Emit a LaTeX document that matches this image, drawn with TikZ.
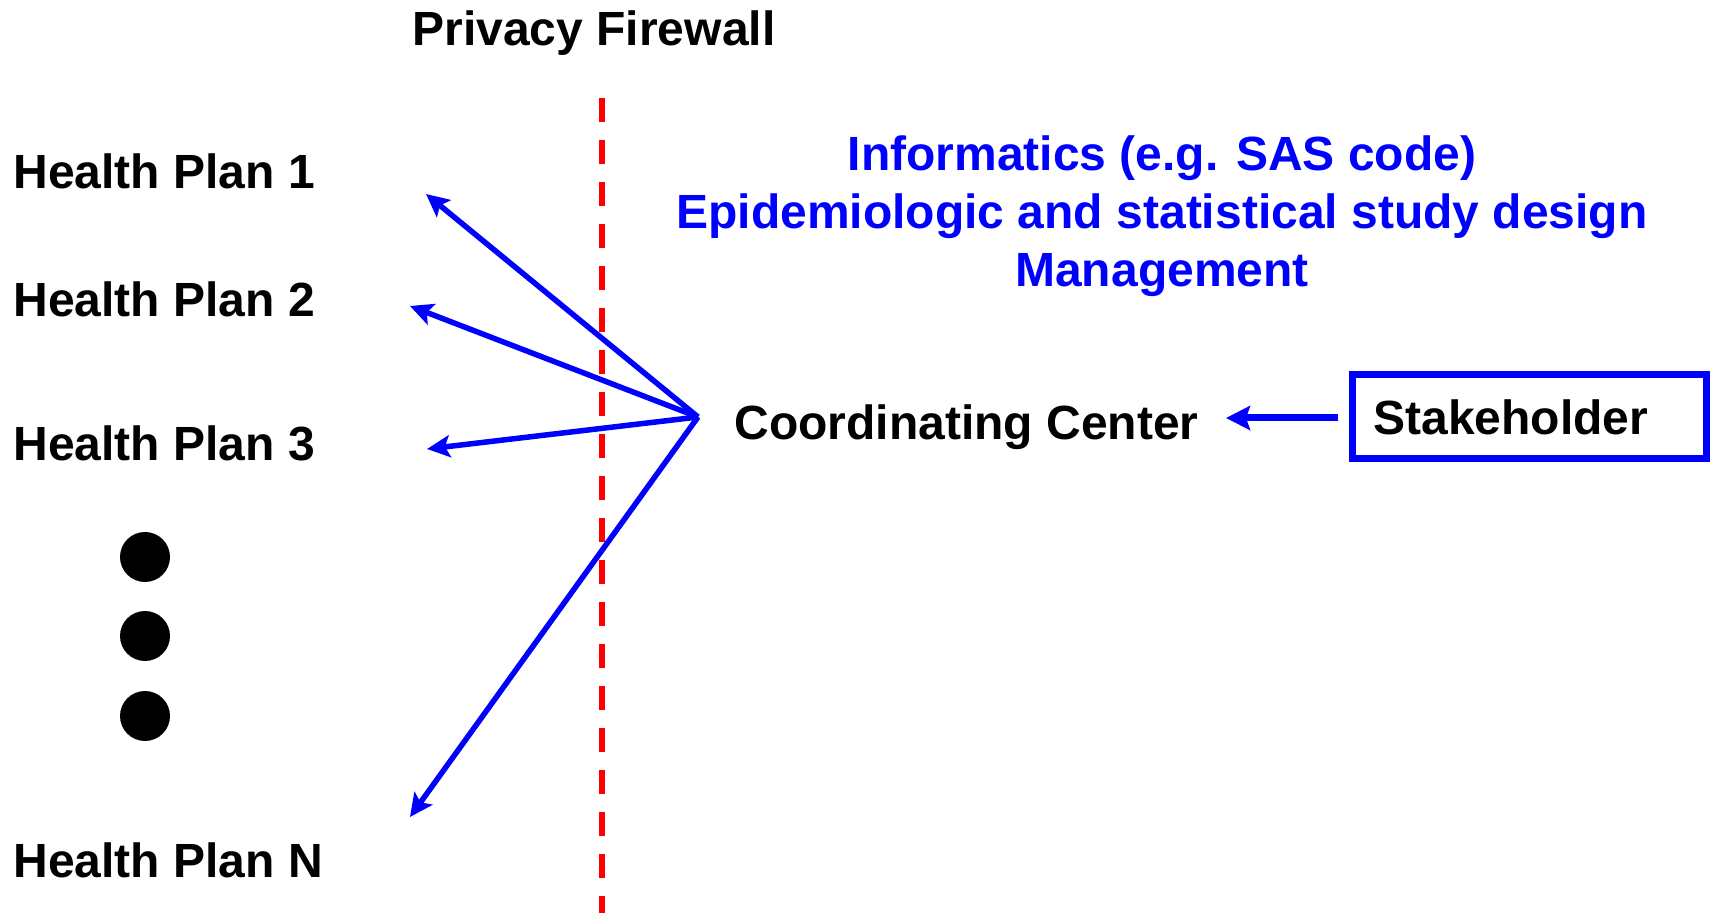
\documentclass[tikz,border=0pt]{standalone}
\usepackage{fontspec}
\setmainfont{Liberation Sans}
\usetikzlibrary{arrows.meta}
\definecolor{pureblue}{RGB}{0,0,255}
\definecolor{purered}{RGB}{255,0,0}
\tikzset{
  lbl/.style={inner sep=0pt, font=\fontsize{24pt}{29pt}\selectfont\bfseries, anchor=base west},
  bluelbl/.style={lbl, text=pureblue, anchor=base},
  fanarrow/.style={draw=pureblue, line width=2.75pt, -{Stealth[length=11.5pt,width=11pt,inset=2.5pt]}},
  firewall/.style={draw=purered, line width=3pt, dash pattern=on 12pt off 9pt},
  dotmark/.style={circle, fill=black, inner sep=0pt, minimum size=25pt},
  stakebox/.style={draw=pureblue, line width=3.5pt, minimum width=177pt, minimum height=42pt, inner sep=0pt}
}
\begin{document}
\begin{tikzpicture}[x=0.5pt, y=-0.5pt]
\path[use as bounding box] (0,0) rectangle (1712,913);
% firewall
\coordinate (fwtop) at (602,98);
\coordinate (fwbot) at (602,913);
\draw[firewall] (fwtop) -- (fwbot);
\node[lbl, anchor=base] (pf) at (594,46) {Privacy Firewall};
% health plans
\node[lbl] (hp1) at (13,189) {Health Plan 1};
\node[lbl] (hp2) at (13,317) {Health Plan 2};
\node[lbl] (hp3) at (13,461) {Health Plan 3};
\node[lbl] (hpn) at (13,877) {Health Plan N};
\node[dotmark] (d1) at (145,557) {};
\node[dotmark] (d2) at (145,636) {};
\node[dotmark] (d3) at (145,716) {};
% blue text
\node[bluelbl] (inf) at (1162,171) {Informatics (e.g. SAS code)};
\node[bluelbl] (epi) at (1162,229) {Epidemiologic and statistical study design};
\node[bluelbl] (mgt) at (1162,287) {Management};
% coordinating center
\node[lbl] (cc) at (734,440) {Coordinating Center};
\node[stakebox] (stake) at (1529,417) {};
\node[lbl] (staketext) at (1373,435) {Stakeholder};
% arrows
\coordinate (fan) at (698,417);
\coordinate (t1) at (426,194);
\coordinate (t2) at (410,306);
\coordinate (t3) at (427,449);
\coordinate (tn) at (410,817);
\draw[fanarrow] (fan) -- (t1);
\draw[fanarrow] (fan) -- (t2);
\draw[fanarrow] (fan) -- (t3);
\draw[fanarrow] (fan) -- (tn);
\coordinate (ccin) at (1226,418);
\coordinate (stakeout) at (1338,418);
\draw[draw=pureblue, line width=3.5pt, -{Stealth[length=12pt,width=12pt,inset=2pt]}] (stakeout) -- (ccin);
\end{tikzpicture}
\end{document}
